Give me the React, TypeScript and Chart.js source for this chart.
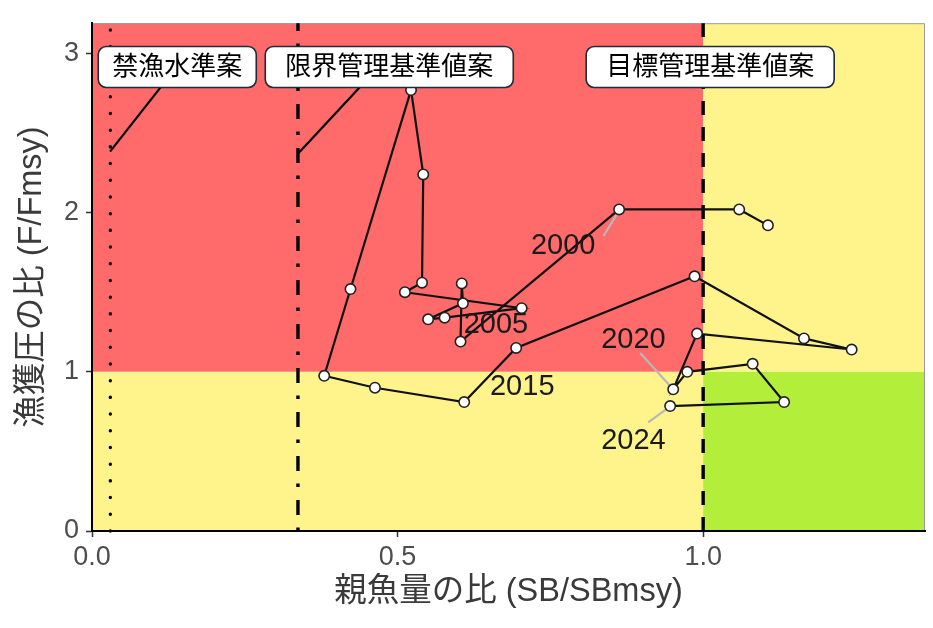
import React, { useEffect, useRef } from "react";
import { Chart, registerables } from "chart.js";

Chart.register(...registerables);

// ---- data ----
const years = [
  1998, 1999, 2000, 2001, 2002, 2003, 2004, 2005, 2006, 2007, 2008, 2009, 2010,
  2011, 2012, 2013, 2014, 2015, 2016, 2017, 2018, 2019, 2020, 2021, 2022, 2023, 2024,
];
const sbRatio = [
  1.106, 1.059, 0.8625, 0.603, 0.605, 0.607, 0.55, 0.577, 0.703, 0.512, 0.54, 0.542, 0.522,
  0.423, 0.38, 0.463, 0.609, 0.694, 0.986, 1.165, 1.243, 0.99, 0.951, 0.974, 1.081, 1.1325, 0.946,
];
const fRatio = [
  1.92, 2.02, 2.02, 1.19, 1.555, 1.43, 1.33, 1.34, 1.4, 1.5, 1.56, 2.24, 2.77,
  1.52, 0.975, 0.9, 0.81, 1.15, 1.6, 1.21, 1.14, 1.24, 0.89, 1.0, 1.05, 0.81, 0.785,
];

const banLevel = 0.03; // 禁漁水準案
const limitLevel = 0.337; // 限界管理基準値案
const targetLevel = 1.0; // 目標管理基準値案
const fmsyLevel = 1.0;

const xMax = 1.363;
const yMax = 3.19;
const xTickValues = [0, 0.5, 1.0];
const yTickValues = [0, 1, 2, 3];

const refLabelText = ["禁漁水準案", "限界管理基準値案", "目標管理基準値案"];
const refLabelX = [0.1395, 0.4864, 1.0115];
const refLabelY = [2.915, 2.915, 2.915];
const refLeaderFromX = [0.0295, 0.337];
const refLeaderFromY = [2.383, 2.37];
const refLeaderToX = [0.1395, 0.47];
const refLeaderToY = [2.92, 2.92];

const yearLabelText = ["2000", "2005", "2015", "2020", "2024"];
const yearLabelX = [0.771, 0.661, 0.704, 0.886, 0.886];
const yearLabelY = [1.799, 1.3, 0.911, 1.207, 0.574];
const yearLeaderFromX = [0.837, 0.897, 0.91];
const yearLeaderFromY = [1.853, 1.118, 0.682];
const yearLeaderToX = [0.859, 0.946, 0.94];
const yearLeaderToY = [1.992, 0.911, 0.765];

const FONT = '"Liberation Sans", "Noto Sans CJK JP", sans-serif';

const zonesPlugin = {
  id: "zones",
  beforeDraw(chart: any) {
    const { ctx, chartArea, scales } = chart;
    const x = scales.x;
    const y = scales.y;
    const x0 = chartArea.left;
    const x1 = x.getPixelForValue(targetLevel);
    const x2 = chartArea.right;
    const yTop = chartArea.top;
    const yMid = y.getPixelForValue(fmsyLevel);
    const yBot = chartArea.bottom;
    ctx.save();
    ctx.fillStyle = "#FF6A6A";
    ctx.fillRect(x0, yTop, x1 - x0, yMid - yTop);
    ctx.fillStyle = "#FFF48C";
    ctx.fillRect(x0, yMid, x1 - x0, yBot - yMid);
    ctx.fillRect(x1, yTop, x2 - x1, yMid - yTop);
    ctx.fillStyle = "#B3EE3A";
    ctx.fillRect(x1, yMid, x2 - x1, yBot - yMid);
    // panel border (top / right)
    ctx.strokeStyle = "#9a9a9a";
    ctx.lineWidth = 1;
    ctx.beginPath();
    ctx.moveTo(x0, yTop + 0.5);
    ctx.lineTo(x2 - 0.5, yTop + 0.5);
    ctx.lineTo(x2 - 0.5, yBot);
    ctx.stroke();
    ctx.restore();
  },
  beforeDatasetsDraw(chart: any) {
    const { ctx, chartArea, scales } = chart;
    const x = scales.x;
    const drawV = (v: number, dash: number[], w: number, cap: CanvasLineCap) => {
      const px = x.getPixelForValue(v);
      ctx.save();
      ctx.strokeStyle = "#000";
      ctx.lineWidth = w;
      ctx.lineCap = cap;
      ctx.setLineDash(dash);
      ctx.beginPath();
      ctx.moveTo(px, chartArea.bottom);
      ctx.lineTo(px, chartArea.top);
      ctx.stroke();
      ctx.restore();
    };
    drawV(banLevel, [0.1, 16.6], 3.4, "round");
    drawV(limitLevel, [3.5, 12.5, 15, 13], 3.4, "butt");
    drawV(targetLevel, [14, 12], 3.4, "butt");
  },
  afterDatasetsDraw(chart: any) {
    const { ctx, scales } = chart;
    const x = scales.x;
    const y = scales.y;
    ctx.save();
    // year labels
    ctx.font = `29px ${FONT}`;
    ctx.fillStyle = "#1a1a1a";
    ctx.textAlign = "center";
    ctx.textBaseline = "middle";
    yearLabelText.forEach((t, i) => {
      ctx.fillText(t, x.getPixelForValue(yearLabelX[i]), y.getPixelForValue(yearLabelY[i]) + 1);
    });
    // reference boxes
    ctx.font = `26px ${FONT}`;
    refLabelText.forEach((t, i) => {
      const cx = x.getPixelForValue(refLabelX[i]);
      const cy = y.getPixelForValue(refLabelY[i]);
      const w = ctx.measureText(t).width + (i === 0 ? 28 : 40);
      const h = 41;
      ctx.beginPath();
      ctx.roundRect(cx - w / 2, cy - h / 2, w, h, 8);
      ctx.fillStyle = "#ffffff";
      ctx.fill();
      ctx.lineWidth = 1.6;
      ctx.strokeStyle = "#1d2b3a";
      ctx.stroke();
      ctx.fillStyle = "#000";
      ctx.fillText(t, cx, cy + 1);
    });
    ctx.restore();
  },
};

export default function App() {
  const ref = useRef<HTMLCanvasElement | null>(null);
  useEffect(() => {
    document.body.style.margin = "0";
    if (!ref.current) return;

    const trajectory = years.map((_, i) => ({ x: sbRatio[i], y: fRatio[i] }));
    const refLeaders = refLeaderFromX.map((_, i) => ({
      type: "line" as const,
      data: [
        { x: refLeaderFromX[i], y: refLeaderFromY[i] },
        { x: refLeaderToX[i], y: refLeaderToY[i] },
      ],
      borderColor: "#000",
      borderWidth: 2.2,
      pointRadius: 0,
      showLine: true,
      order: 3,
    }));
    const yearLeaders = yearLeaderFromX.map((_, i) => ({
      type: "line" as const,
      data: [
        { x: yearLeaderFromX[i], y: yearLeaderFromY[i] },
        { x: yearLeaderToX[i], y: yearLeaderToY[i] },
      ],
      borderColor: "#b8b8b8",
      borderWidth: 2.2,
      pointRadius: 0,
      showLine: true,
      order: 2,
    }));

    const tickFont = { family: FONT, size: 27 };
    const chart = new Chart(ref.current, {
      type: "scatter",
      data: {
        datasets: [
          ...refLeaders,
          ...yearLeaders,
          {
            label: "trajectory",
            data: trajectory,
            showLine: true,
            borderColor: "#111",
            borderWidth: 2.2,
            pointRadius: 5.2,
            pointBackgroundColor: "#ffffff",
            pointBorderColor: "#222",
            pointBorderWidth: 1.6,
            order: 1,
          } as any,
        ],
      },
      options: {
        animation: false,
        responsive: true,
        maintainAspectRatio: false,
        layout: { padding: { left: 0, right: 8, top: 20, bottom: 0 } },
        plugins: { legend: { display: false }, tooltip: { enabled: false } },
        scales: {
          x: {
            type: "linear",
            min: 0,
            max: xMax,
            afterBuildTicks: (s: any) => {
              s.ticks = xTickValues.map((v) => ({ value: v }));
            },
            afterFit: (s: any) => {
              s.height = 97;
            },
            ticks: {
              font: tickFont,
              color: "#4d4d4d",
              padding: 4,
              maxRotation: 0,
              callback: (v: any) => Number(v).toFixed(1),
            },
            grid: { drawOnChartArea: false, drawTicks: true, tickLength: 6, tickColor: "#333", tickWidth: 1.5 },
            border: { display: true, color: "#000", width: 2 },
            title: {
              display: true,
              text: "親魚量の比 (SB/SBmsy)",
              color: "#3a3a3a",
              font: { family: FONT, size: 32.5 },
              padding: { top: 0, bottom: 16 },
            },
          },
          y: {
            type: "linear",
            min: 0,
            max: yMax,
            afterBuildTicks: (s: any) => {
              s.ticks = yTickValues.map((v) => ({ value: v }));
            },
            afterFit: (s: any) => {
              s.width = 92;
            },
            ticks: {
              font: tickFont,
              color: "#4d4d4d",
              padding: 7,
              callback: (v: any) => String(v),
            },
            grid: { drawOnChartArea: false, drawTicks: true, tickLength: 6, tickColor: "#333", tickWidth: 1.5 },
            border: { display: true, color: "#000", width: 2 },
            title: {
              display: true,
              text: "漁獲圧の比 (F/Fmsy)",
              color: "#3a3a3a",
              font: { family: FONT, size: 32.5 },
              padding: { top: 13, bottom: 0 },
            },
          },
        },
      },
      plugins: [zonesPlugin],
    });
    return () => chart.destroy();
  }, []);

  return (
    <div style={{ width: 933, height: 628, position: "relative" }}>
      <canvas ref={ref} />
    </div>
  );
}
